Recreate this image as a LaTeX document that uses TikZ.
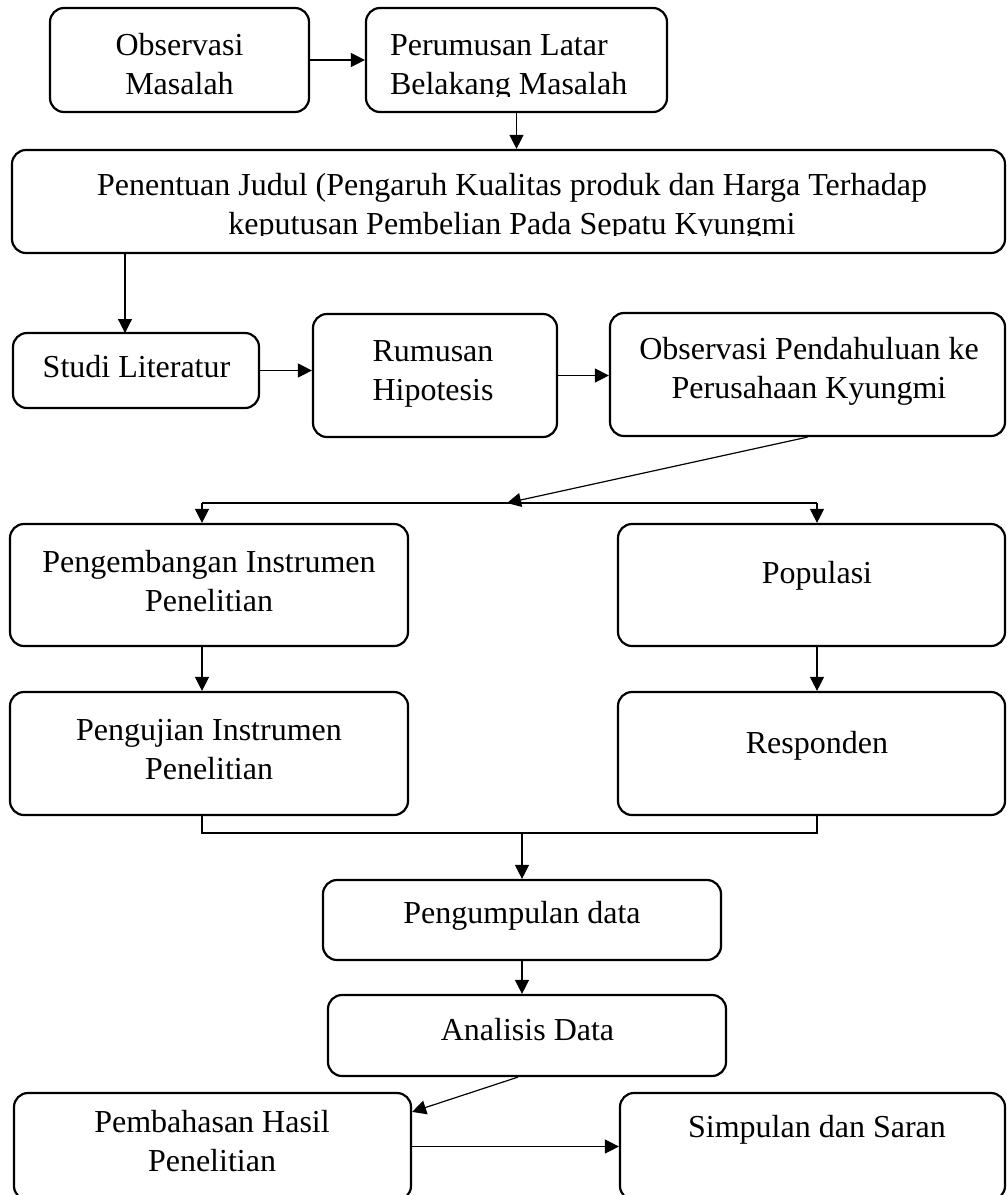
\documentclass[tikz,border=0pt]{standalone}
\usepackage{fontspec}
\setmainfont{Liberation Serif}
\usetikzlibrary{arrows.meta}
\begin{document}
\begin{tikzpicture}[x=0.5pt,y=-0.5pt,
 box/.style={draw, line width=1.1pt, rounded corners=7pt, rectangle, inner sep=0pt},
 txt/.style={inner sep=0pt, outer sep=0pt, align=center, anchor=north, font=\fontsize{16}{19.5}\selectfont},
 arr/.style={line width=0.6pt, -{Triangle[length=7pt,width=7pt]}},
 ln/.style={line width=0.6pt}]
\useasboundingbox (0,0) rectangle (1007,1195);
\clip (0,0) rectangle (1007,1195);
% boxes
\node[box, minimum width=129.5pt, minimum height=52pt] (b1) at (179.5,60) {};
\node[box, minimum width=150.5pt, minimum height=52pt] (b2) at (516.5,60) {};
\node[box, minimum width=496.5pt, minimum height=51.5pt] (b3) at (508.5,201.5) {};
\node[box, minimum width=123pt, minimum height=37.5pt] (b4) at (136,370.5) {};
\node[box, minimum width=122pt, minimum height=61.5pt] (b5) at (435,375.5) {};
\node[box, minimum width=197.5pt, minimum height=61.5pt] (b6) at (807.5,374.5) {};
\node[box, minimum width=199pt, minimum height=61pt] (b7) at (209,585) {};
\node[box, minimum width=193.5pt, minimum height=61pt] (b8) at (811.5,585) {};
\node[box, minimum width=199pt, minimum height=61.5pt] (b9) at (209,753.5) {};
\node[box, minimum width=193.5pt, minimum height=61.5pt] (b10) at (811.5,753.5) {};
\node[box, minimum width=199pt, minimum height=40pt] (b11) at (522,920) {};
\node[box, minimum width=199pt, minimum height=40.5pt] (b12) at (527,1035.5) {};
\node[box, minimum width=198.5pt, minimum height=53.5pt] (b13) at (212.5,1146.5) {};
\node[box, minimum width=192.5pt, minimum height=53.5pt] (b14) at (812.5,1146.5) {};
% texts
\node[txt] (t1) at (179.5,27.7) {\strut Observasi\\Masalah};
\begin{scope}
\clip (370,12) rectangle (660,96);
\node[txt, align=left, anchor=north west] (t2) at (390,27.7) {\strut Perumusan Latar\\Belakang Masalah};
\end{scope}
\begin{scope}
\clip (20,154) rectangle (1000,235);
\node[txt] (t3) at (512,167.7) {\strut Penentuan Judul (Pengaruh Kualitas produk dan Harga Terhadap\\keputusan Pembelian Pada Sepatu Kyungmi};
\end{scope}
\node[txt] (t4) at (136.5,349.7) {\strut Studi Literatur};
\node[txt] (t5) at (433,333.7) {\strut Rumusan\\Hipotesis};
\node[txt] (t6) at (809,331.7) {\strut Observasi Pendahuluan ke\\Perusahaan Kyungmi};
\node[txt] (t7) at (209,544.7) {\strut Pengembangan Instrumen\\Penelitian};
\node[txt] (t8) at (817,555.7) {\strut Populasi};
\node[txt] (t9) at (209,712.7) {\strut Pengujian Instrumen\\Penelitian};
\node[txt] (t10) at (817,725.7) {\strut Responden};
\node[txt] (t11) at (522,895.7) {\strut Pengumpulan data};
\node[txt] (t12) at (527.5,1012.7) {\strut Analisis Data};
\node[txt] (t13) at (212,1104.7) {\strut Pembahasan Hasil\\Penelitian};
\node[txt] (t14) at (817,1109.7) {\strut Simpulan dan Saran};
% connectors
\draw[arr] (b1.east) -- (b2.west);
\draw[arr] (b2.south) -- (b2.south |- b3.north);
\coordinate (c4) at (125,333);
\draw[arr] (c4 |- b3.south) -- (c4);
\draw[arr] (b4.east) -- (b4.east -| b5.west);
\draw[arr] (b5.east) -- (b5.east -| b6.west);
\coordinate (sp) at (507,503);
\coordinate (sl) at (202,503);
\coordinate (sr) at (817,503);
\draw[arr] (b6.south) -- (sp);
\draw[ln] (sl) -- (sr);
\draw[arr] (sl) -- (sl |- b7.north);
\draw[arr] (sr) -- (sr |- b8.north);
\draw[arr] (sl |- b7.south) -- (sl |- b9.north);
\draw[arr] (sr |- b8.south) -- (sr |- b10.north);
\coordinate (ml) at (202,833);
\coordinate (mr) at (817,833);
\coordinate (mm) at (522,833);
\draw[ln] (sl |- b9.south) -- (ml) -- (mr) -- (sr |- b10.south);
\draw[arr] (mm) -- (b11.north);
\draw[arr] (b11.south) -- (b11.south |- b12.north);
\draw[arr] ([xshift=-4.5pt]b12.south) -- ([yshift=-10pt]b13.north east);
\draw[arr] (b13.east) -- (b14.west);
\end{tikzpicture}
\end{document}
